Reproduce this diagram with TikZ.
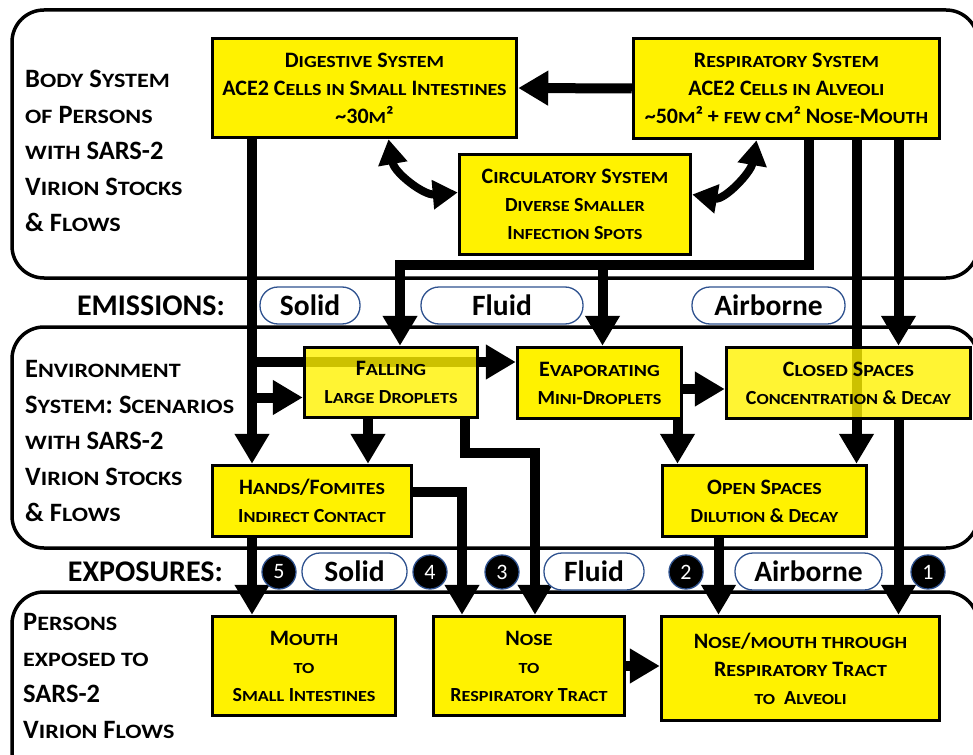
\documentclass[tikz,border=0pt]{standalone}
\usepackage{fontspec}
\setmainfont{Carlito}
\newfontfamily\lcfont{Carlito}[Scale=0.77, FakeStretch=1.18]
\usetikzlibrary{arrows.meta,calc}
\newcommand\lc[1]{{\lcfont #1}}
\newcommand\ttl[1]{{\fontsize{22}{28}\selectfont #1}}
\newcommand\sbl[1]{{\fontsize{20}{28}\selectfont #1}}
\definecolor{pillblue}{RGB}{47,82,143}
\pgfdeclarelayer{back}
\pgfdeclarelayer{flows}
\pgfsetlayers{back,flows,main}

\begin{document}
\begin{tikzpicture}[x=1pt, y=1pt,
  panel/.style={draw, line width=3.5pt, rounded corners=32pt},
  box/.style={draw, line width=3.5pt, fill=yellow, align=center, inner sep=0pt,
    font=\bfseries\fontsize{22}{28}\selectfont},
  seethru/.style={fill opacity=0.8, text opacity=1, draw opacity=1},
  side/.style={anchor=north west, align=left, inner sep=0pt,
    font=\bfseries\fontsize{26.5}{36}\selectfont},
  pill/.style={draw=pillblue, line width=1.3pt, fill=white, rounded corners=18pt,
    minimum height=37pt, inner sep=0pt, font=\bfseries\fontsize{29.5}{30}\selectfont},
  num/.style={circle, draw=pillblue, line width=1.3pt, fill=black, text=white,
    minimum size=34pt, inner sep=0pt, font=\fontsize{22}{24}\selectfont},
  head/.style={anchor=east, inner sep=0pt, font=\bfseries\fontsize{30}{30}\selectfont},
  flow/.style={line width=10pt, line join=miter, -{Triangle[length=30pt,width=33pt]}},
  swap/.style={line width=8pt, {Triangle[length=25pt,width=28pt]}-{Triangle[length=25pt,width=28pt]}},
]
\begin{pgfonlayer}{back}
  \fill[white] (0,0) rectangle (973,-754);
\end{pgfonlayer}
\useasboundingbox (0,0) rectangle (973,-754);

% panels
\draw[panel] (12,-10) rectangle (978,-278);
\draw[panel] (12,-327) rectangle (978,-548);
\draw[panel] (12,-592) rectangle (978,-790);

\node[side] (bodyLbl) at (25,-70) {B\lc{ODY} S\lc{YSTEM}\\ \lc{OF} P\lc{ERSONS}\\ \lc{WITH} SARS-2\\ V\lc{IRION} S\lc{TOCKS}\\ \& F\lc{LOWS}};
\node[side] (envLbl) at (25,-360) {E\lc{NVIRONMENT}\\ S\lc{YSTEM}: S\lc{CENARIOS}\\ \lc{WITH} SARS-2\\ V\lc{IRION} S\lc{TOCKS}\\ \& F\lc{LOWS}};
\node[side] (perLbl) at (23,-613) {P\lc{ERSONS}\\ \lc{EXPOSED TO}\\ SARS-2\\ V\lc{IRION} F\lc{LOWS}};

% emissions / exposures rows
\node[head] (emis) at (225,-305.5) {EMISSIONS:};
\node[pill, minimum width=100pt] (emSolid) at (310,-305.5) {Solid};
\node[pill, minimum width=162pt] (emFluid) at (502,-305.5) {Fluid};
\node[pill, minimum width=153pt] (emAir) at (768.5,-305.5) {Airborne};

\node[head] (expo) at (223,-572) {EXPOSURES:};
\node[num] (n5) at (279,-572) {5};
\node[pill, minimum width=105pt] (exSolid) at (354.5,-571.5) {Solid};
\node[num] (n4) at (430,-572) {4};
\node[num] (n3) at (502,-572) {3};
\node[pill, minimum width=100pt] (exFluid) at (594,-571.5) {Fluid};
\node[num] (n2) at (686,-572) {2};
\node[pill, minimum width=147pt] (exAir) at (808.5,-571.5) {Airborne};
\node[num] (n1) at (928,-572) {1};

% body system
\node[box, minimum width=304pt, minimum height=99pt] (dig) at (364.5,-88)
  {\ttl{D\lc{IGESTIVE} S\lc{YSTEM}}\\ \ttl{ACE2 C\lc{ELLS IN} S\lc{MALL} I\lc{NTESTINES}}\\ \ttl{\textasciitilde30\lc{M}²}};
\node[box, minimum width=306pt, minimum height=100pt] (resp) at (786.5,-88.5)
  {\ttl{R\lc{ESPIRATORY} S\lc{YSTEM}}\\ \ttl{ACE2 C\lc{ELLS IN} A\lc{LVEOLI}}\\ \ttl{\textasciitilde50\lc{M}² + \lc{FEW CM}² N\lc{OSE}-M\lc{OUTH}}};
\node[box, minimum width=231pt, minimum height=100pt] (circ) at (575,-204.5)
  {\ttl{C\lc{IRCULATORY} S\lc{YSTEM}}\\ \sbl{D\lc{IVERSE} S\lc{MALLER}}\\ \sbl{I\lc{NFECTION} S\lc{POTS}}};

% environment system
\node[box, seethru, minimum width=173pt, minimum height=70pt] (fall) at (391,-382.5)
  {\ttl{F\lc{ALLING}}\\ \sbl{L\lc{ARGE} D\lc{ROPLETS}}};
\node[box, minimum width=164pt, minimum height=71pt] (evap) at (599.5,-383)
  {\ttl{E\lc{VAPORATING}}\\ \sbl{M\lc{INI}-D\lc{ROPLETS}}};
\node[box, seethru, minimum width=244pt, minimum height=71pt] (closed) at (848.5,-383)
  {\ttl{C\lc{LOSED} S\lc{PACES}}\\ \sbl{C\lc{ONCENTRATION} \& D\lc{ECAY}}};
\node[box, minimum width=199pt, minimum height=71pt] (hands) at (312,-501)
  {\ttl{H\lc{ANDS}/F\lc{OMITES}}\\ \sbl{I\lc{NDIRECT} C\lc{ONTACT}}};
\node[box, minimum width=204pt, minimum height=71pt] (open) at (764.5,-501)
  {\ttl{O\lc{PEN} S\lc{PACES}}\\ \sbl{D\lc{ILUTION} \& D\lc{ECAY}}};

% exposed persons
\node[box, minimum width=183pt, minimum height=99pt] (mouth) at (304,-666)
  {\ttl{M\lc{OUTH}}\\ \sbl{\lc{TO}}\\ \sbl{S\lc{MALL} I\lc{NTESTINES}}};
\node[box, minimum width=191pt, minimum height=99pt] (nose) at (529,-666)
  {\ttl{N\lc{OSE}}\\ \sbl{\lc{TO}}\\ \sbl{R\lc{ESPIRATORY} T\lc{RACT}}};
\node[box, minimum width=278pt, minimum height=104pt] (nm) at (800.5,-668.5)
  {\ttl{N\lc{OSE}/\lc{MOUTH THROUGH}}\\ \ttl{R\lc{ESPIRATORY} T\lc{RACT}}\\ \sbl{\lc{TO}\ \ A\lc{LVEOLI}}};

% flows
\begin{pgfonlayer}{flows}
\coordinate (colA) at (252,0);
\coordinate (rowA) at (0,-362);
\coordinate (rowB) at (0,-265);
\coordinate (rowC) at (0,-453);
\coordinate (fallL) at ([yshift=-15]fall.west);
\coordinate (fallT) at ([xshift=9]fall.north);
\coordinate (evapT) at ([xshift=3]evap.north);
\coordinate (evapR) at ([yshift=-6]evap.east);
\coordinate (openR) at ([xshift=92]open.north);
\coordinate (openL) at ([xshift=-87]open.north);
\coordinate (closedT) at ([xshift=50]closed.north);
\coordinate (handsT) at ([xshift=56]hands.north);
\coordinate (handsR) at ([yshift=9]hands.east);
\coordinate (noseL) at ([xshift=-67]nose.north);
\coordinate (noseM) at ([xshift=6]nose.north);
\coordinate (nmL) at ([xshift=-82]nm.north);
\coordinate (nmR) at ([xshift=98]nm.north);

\draw[flow] (resp.west) -- (dig.east);
\draw[swap] ([xshift=24]dig.south) to[out=-80, in=185] ([yshift=12]circ.west);
\draw[swap] ([xshift=-30]resp.south) to[out=-100, in=-10] ([yshift=10]circ.east);

\draw[flow] (dig.south -| colA) -- (hands.north -| colA);
\draw[flow] (colA |- rowA) -- (evap.west |- rowA);
\draw[flow] (colA |- fallL) -- (fallL);
\draw[flow] ([xshift=22]resp.south) |- (fallT |- rowB) -- (fallT);
\draw[flow] (evapT |- rowB) -- (evapT);
\draw[flow] (openR |- resp.south) -- (openR);
\draw[flow] (closedT |- resp.south) -- (closedT);

\draw[flow] (handsT |- fall.south) -- (handsT);
\draw[flow] ([xshift=74]fall.south) |- (noseM |- rowC) -- (noseM);
\draw[flow] (openL |- evap.south) -- (openL);
\draw[flow] (evapR) -- (evapR -| closed.west);

\draw[flow] (handsR) -| (noseL);
\draw[flow] (hands.south -| colA) -- (mouth.north -| colA);
\draw[flow] (nmL |- open.south) -- (nmL);
\draw[flow] (nmR |- closed.south) -- (nmR);
\draw[flow] (nose.east) -- (nose.east -| nm.west);
\end{pgfonlayer}
\end{tikzpicture}
\end{document}
